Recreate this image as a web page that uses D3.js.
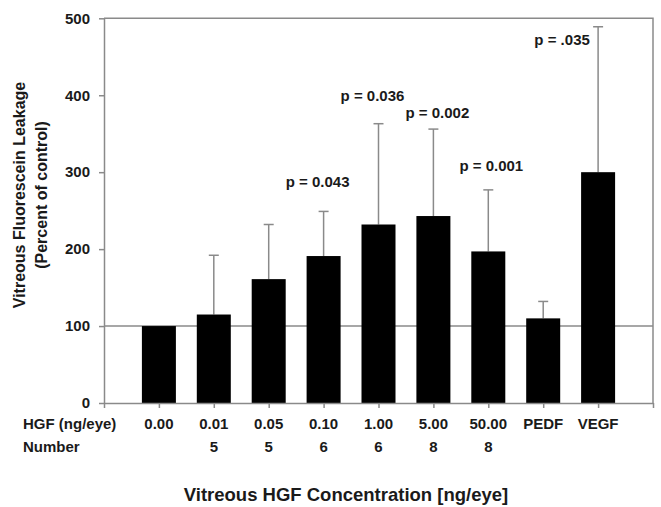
<!DOCTYPE html>
<html>
<head>
<meta charset="utf-8">
<script src="https://cdn.jsdelivr.net/npm/d3@7/dist/d3.min.js"></script>
<style>
  html, body { margin: 0; padding: 0; background: #fff; }
  svg { display: block; }
  text { font-family: "Liberation Sans", Arial, Helvetica, sans-serif; font-weight: bold; fill: #1a1a1a; }
</style>
</head>
<body>
<svg id="chart" width="661" height="507"></svg>
<script>
// ---- data ----
const categories = ["0.00", "0.01", "0.05", "0.10", "1.00", "5.00", "50.00", "PEDF", "VEGF"];
const numbers    = ["", "5", "5", "6", "6", "8", "8", "", ""];
const means      = [100, 115, 161, 191, 232, 243, 197, 110, 300];
const errors     = [0, 77, 71, 58, 131, 113, 80, 22, 189];
const pLabels    = ["", "", "", "p = 0.043", "p = 0.036", "p = 0.002", "p = 0.001", "", "p = .035"];
const pLabelY    = [0, 0, 0, 281, 392, 371, 301, 0, 465];   // label baseline, in chart units
const yTicks     = [0, 100, 200, 300, 400, 500];
const refValue   = 100;

// ---- layout ----
const L = 104, R = 653, T = 18.3, B = 403;
const pLabelDx = [0, 0, 0, -6, -6, 4, 3, 0, -36];
const barW = 34;
const gray = "#8a8a8a";

const svg = d3.select("#chart");

const x = d3.scalePoint().domain(["_l", ...categories, "_r"]).range([L, R]);
const y = d3.scaleLinear().domain([0, 500]).range([B, T]);

// frame (top & right borders)
svg.append("path")
  .attr("d", `M${L},${T}H${R}V${B}`)
  .attr("fill", "none").attr("stroke", gray).attr("stroke-width", 1.5);

// reference line at 100
svg.append("line")
  .attr("x1", L).attr("x2", R)
  .attr("y1", y(refValue)).attr("y2", y(refValue))
  .attr("stroke", gray).attr("stroke-width", 1.5);

// error bars
const eg = svg.append("g");
categories.forEach((c, i) => {
  if (!errors[i]) return;
  const cx = x(c);
  eg.append("line").attr("x1", cx).attr("x2", cx)
    .attr("y1", y(means[i])).attr("y2", y(means[i] + errors[i]))
    .attr("stroke", gray).attr("stroke-width", 1.5);
  eg.append("line").attr("x1", cx - 5).attr("x2", cx + 5)
    .attr("y1", y(means[i] + errors[i])).attr("y2", y(means[i] + errors[i]))
    .attr("stroke", gray).attr("stroke-width", 1.5);
});

// bars
svg.append("g").selectAll("rect")
  .data(categories)
  .join("rect")
  .attr("x", c => x(c) - barW / 2)
  .attr("width", barW)
  .attr("y", (c, i) => y(means[i]))
  .attr("height", (c, i) => B - y(means[i]))
  .attr("fill", "#000");

// axes
const yAxis = svg.append("g").attr("transform", `translate(${L},0)`)
  .call(d3.axisLeft(y).tickValues(yTicks).tickSize(5).tickSizeOuter(0).tickPadding(9));
const xAxis = svg.append("g").attr("transform", `translate(0,${B})`)
  .call(d3.axisBottom(x).tickSize(5).tickSizeOuter(0).tickFormat(""));
[yAxis, xAxis].forEach(a => {
  a.selectAll("path, line").attr("stroke", gray).attr("stroke-width", 1.5);
});
yAxis.selectAll("text").style("font-size", "15px").attr("fill", "#1a1a1a");

// category labels and numbers
const lab = svg.append("g");
lab.append("text").attr("x", 23).attr("y", 429).style("font-size", "15px").text("HGF (ng/eye)");
lab.append("text").attr("x", 23).attr("y", 452).style("font-size", "15px").text("Number");
categories.forEach((c, i) => {
  lab.append("text").attr("x", x(c)).attr("y", 429).attr("text-anchor", "middle")
    .style("font-size", "15px").text(c);
  if (numbers[i]) {
    lab.append("text").attr("x", x(c)).attr("y", 452).attr("text-anchor", "middle")
      .style("font-size", "15px").text(numbers[i]);
  }
});

// p-value annotations
categories.forEach((c, i) => {
  if (!pLabels[i]) return;
  const isSide = i === categories.length - 1;
  svg.append("text")
    .attr("x", isSide ? x(c) + pLabelDx[i] + 27.5 - 27.5 : x(c) + pLabelDx[i])
    .attr("y", y(pLabelY[i]))
    .attr("text-anchor", "middle")
    .style("font-size", "15px")
    .text(pLabels[i]);
});

// axis titles
svg.append("text")
  .attr("transform", "translate(25,195) rotate(-90)")
  .attr("text-anchor", "middle").style("font-size", "16px")
  .text("Vitreous Fluorescein Leakage");
svg.append("text")
  .attr("transform", "translate(46.5,195) rotate(-90)")
  .attr("text-anchor", "middle").style("font-size", "16px")
  .text("(Percent of control)");
svg.append("text")
  .attr("x", 346).attr("y", 501)
  .attr("text-anchor", "middle").style("font-size", "18.5px")
  .text("Vitreous HGF Concentration [ng/eye]");
</script>
</body>
</html>
